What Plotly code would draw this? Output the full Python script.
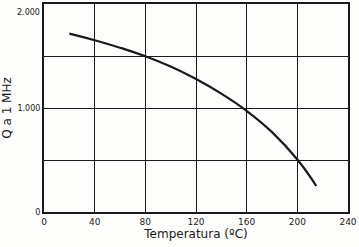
import plotly.graph_objects as go

temp = [20, 40, 60, 80, 100, 120, 140, 160, 180, 200, 215]
q = [1715, 1652, 1580, 1497, 1398, 1278, 1138, 972, 768, 505, 250]

x_ticks = [0, 40, 80, 120, 160, 200, 240]
y_ticks = [0, 500, 1000, 1500, 2000]
y_ticktext = ["0", "", "1.000", "", ""]
top_label = "2.000"

ink = "#1a1a1a"
font_fam = "DejaVu Sans"

fig = go.Figure()
fig.add_trace(go.Scatter(
    x=temp, y=q, mode="lines",
    line=dict(color=ink, width=2.2, shape="spline", smoothing=1.3),
    hoverinfo="skip", showlegend=False,
))

fig.add_annotation(
    x=0, y=y_ticks[-1], xref="x", yref="y", text=top_label,
    showarrow=False, xanchor="right", yanchor="middle",
    xshift=-2, yshift=-8, font=dict(size=8, family=font_fam, color=ink),
)

fig.update_layout(
    width=359, height=247,
    margin=dict(l=44, r=3, t=2, b=35),
    paper_bgcolor="#fdfdfb", plot_bgcolor="#fdfdfb",
    font=dict(family=font_fam, color=ink, size=9),
    showlegend=False,
)
fig.update_xaxes(
    range=[0, 240], tickvals=x_ticks, ticktext=[str(v) for v in x_ticks],
    showgrid=True, gridcolor=ink, gridwidth=1.3,
    showline=True, linecolor=ink, linewidth=2, mirror=True,
    zeroline=False, ticks="", ticklabeloverflow="allow",
    tickfont=dict(size=9, family=font_fam),
    title=dict(text="Temperatura (ºC)", font=dict(size=12, family=font_fam), standoff=4),
)
fig.update_yaxes(
    range=[0, 2000], tickvals=y_ticks, ticktext=y_ticktext,
    showgrid=True, gridcolor=ink, gridwidth=1.3,
    showline=True, linecolor=ink, linewidth=2, mirror=True,
    zeroline=False, ticks="",
    tickfont=dict(size=8, family=font_fam),
    title=dict(text="Q a 1 MHz", font=dict(size=12, family=font_fam), standoff=6),
)

fig.write_html("out.html")
